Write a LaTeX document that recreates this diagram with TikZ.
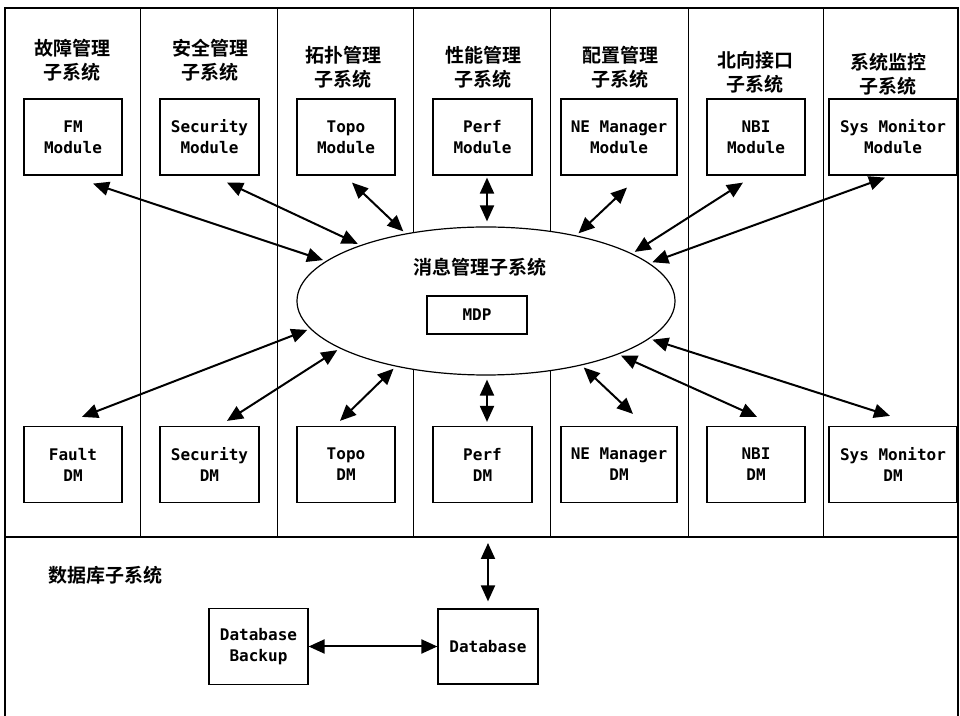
\documentclass[tikz,border=0pt]{standalone}
\usepackage{fontspec}
\setmonofont{DejaVu Sans Mono}
\newfontfamily\cjk{Noto Sans CJK SC}[BoldFont={Noto Sans CJK SC Bold}]
\usetikzlibrary{arrows.meta,shapes.geometric}

\begin{document}
\begin{tikzpicture}[x=0.5pt, y=-0.5pt,
  box/.style={draw, line width=0.6pt, minimum height=38pt, align=center, inner sep=0pt,
              font=\ttfamily\bfseries\fontsize{8}{10.5}\selectfont},
  title/.style={align=center, font=\cjk\bfseries\fontsize{9.5}{12}\selectfont},
  link/.style={{Triangle[length=8pt,width=7pt]}-{Triangle[length=8pt,width=7pt]}, line width=1pt}]
  \useasboundingbox (0,0) rectangle (960,716);

  % --- 外框与分栏 ---
  \coordinate (split) at (5,537);
  \draw[line width=0.6pt] (5,716) -- (5,8) -- (958,8) -- (958,716);
  \draw[line width=0.8pt] (5,8) -- (958,8);
  \draw[line width=0.8pt] (split) -- (958,537);
  \foreach \x in {140,277,413,550,688,823}
    \draw[line width=0.5pt] (\x,8) -- (\x,537);

  % --- 子系统标题 ---
  \foreach \n/\x/\y/\t in {t1/72/60/故障管理, t2/210/60/安全管理, t3/343/67/拓扑管理,
                           t4/483/67/性能管理, t5/620/67/配置管理, t6/755/72/北向接口,
                           t7/888/74/系统监控}
    \node[title] (\n) at (\x,\y) {\t\\子系统};

  % --- Module 与 DM 方框 ---
  \foreach \n/\x/\w/\t in {fmmod/73/98/FM, secmod/209.5/99/Security, topomod/346/98/Topo,
                           perfmod/482.5/99/Perf, nemod/619/116/NE Manager,
                           nbimod/756/98/NBI, sysmod/893/128/Sys Monitor}
    \node[box, minimum width=\w*0.5pt] (\n) at (\x,137) {\t\\Module};
  \foreach \n/\x/\w/\t in {fltdm/73/98/Fault, secdm/209.5/99/Security, topodm/346/98/Topo,
                           perfdm/482.5/99/Perf, nedm/619/116/NE Manager,
                           nbidm/756/98/NBI, sysdm/893/128/Sys Monitor}
    \node[box, minimum width=\w*0.5pt] (\n) at (\x,464.5) {\t\\DM};

  % --- 消息管理子系统 ---
  \node[ellipse, draw, fill=white, line width=0.6pt, minimum width=189pt,
        minimum height=74pt, inner sep=0pt] (msg) at (486,301) {};
  \node[title] (msgtitle) at (480,267) {消息管理子系统};
  \node[box, minimum width=50pt, minimum height=19pt] (mdp) at (477,315) {MDP};

  % --- 数据库子系统 ---
  \node[title] (dbtitle) at (105.5,575) {数据库子系统};
  \node[box, minimum width=49.5pt] (bak) at (258.5,646.5) {Database\\Backup};
  \node[box, minimum width=50pt, minimum height=37.5pt] (db) at (488,646.5) {Database};

  % --- 双向箭头 ---
  \foreach \m/\dx/\dy/\a in {fmmod/10/-4/166, secmod/8.75/-3.5/156, topomod/3/-3.5/140,
                             nemod/4/-6/36, nbimod/-6.5/-3.5/18, sysmod/-4/-1/13}
    \draw[link, shorten >=1.5pt] ([xshift=\dx pt, yshift=\dy pt]\m.south) -- (msg.\a);
  \foreach \m/\dx/\dy/\a in {fltdm/4.5/4.5/189, secdm/8.75/2.5/198, topodm/-3/2.5/216,
                             nedm/7/6/326, nbidm/0.5/4.5/338, sysdm/-1.5/5/347}
    \draw[link, shorten <=1.5pt] (msg.\a) -- ([xshift=\dx pt, yshift=\dy pt]\m.north);

  \coordinate (perfx) at ([xshift=2.25pt]perfmod.south);
  \coordinate (perfy) at ([xshift=2.25pt]perfdm.north);
  \draw[link] ([yshift=-1pt]perfx) -- ([yshift=2.5pt]perfx |- msg.north);
  \draw[link] ([yshift=-2pt]perfy |- msg.south) -- ([yshift=2pt]perfy);
  \draw[link] ([yshift=3.5pt]db.north) -- ([yshift=-3pt]db.north |- split);
  \draw[link] (bak) -- (db);
\end{tikzpicture}
\end{document}
